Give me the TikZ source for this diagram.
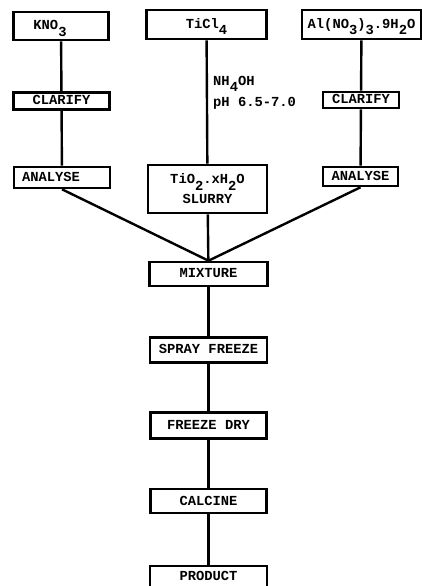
\documentclass[tikz,border=0pt]{standalone}
\usepackage{fontspec}
\newfontfamily\typer{Liberation Mono}
\newcommand\dn[1]{\raisebox{-0.45em}{#1}}

\begin{document}
\begin{tikzpicture}[x=1pt,y=-1pt,node distance=75.7pt,
  main node/.style={rectangle,draw,line width=2.6pt,
  font=\typer\bfseries\fontsize{13.8}{16}\selectfont,
  inner sep=0pt,text height=7.9pt,text depth=0pt}]

  \useasboundingbox (0,0) rectangle (422,586);

  %Three feed solutions along the top%
  \node[main node,minimum width=95pt,minimum height=28pt] (KNO) at (61,26) {KNO\dn{3}\hspace*{22pt}};
  \node[main node,minimum width=120pt,minimum height=29pt] (TiCl) at (206.5,24.5) {TiCl\dn{4}};
  \node[main node,minimum width=119pt,minimum height=29pt] (AlN) at (361.5,24.5) {Al(NO\dn{3})\dn{3}.9H\dn{2}O};

  \node[main node,minimum width=96pt,minimum height=17pt] (ClarK) at (61.5,101) {CLARIFY};
  \node[main node,minimum width=76pt,minimum height=16pt] (ClarAl) at (361,100) {CLARIFY};

  \node[main node,minimum width=96pt,minimum height=21pt] (AnK) at (62,177.5) {ANALYSE\hspace*{22pt}};
  \node[main node,minimum width=119pt,minimum height=48pt,text height={},text depth={},align=center] (TiO) at (207.5,189) {TiO\dn{2}.xH\dn{2}O\\[4pt] SLURRY};
  \node[main node,minimum width=75pt,minimum height=19pt] (AnAl) at (360.5,176.5) {ANALYSE};

  %Main process line%
  \node[main node,minimum width=118pt,minimum height=24pt] (Mix) at (208.5,274) {MIXTURE};
  \node[main node,minimum width=117pt,minimum height=25pt] (Spray) [below of=Mix] {SPRAY FREEZE};
  \node[main node,minimum width=116pt,minimum height=26pt] (Dry) [below of=Spray] {FREEZE DRY};
  \node[main node,minimum width=116pt,minimum height=24pt] (Calc) [below of=Dry] {CALCINE};
  \node[main node,minimum width=117pt,minimum height=22pt] (Prod) [below of=Calc] {PRODUCT};

  \node[font=\typer\bfseries\fontsize{13.8}{13}\selectfont,align=left,anchor=north west,inner sep=0pt] (Reag) at (213,76) {NH\dn{4}OH\\[5pt]pH 6.5-7.0};

  \path[every edge/.style={draw,line width=2.4pt}]
    %KNO3 branch%
    (KNO) edge (ClarK)
    (ClarK) edge (AnK)
    (AnK.south) edge (Mix.north)
    %TiCl4 hydrolysis%
    (TiCl) edge (TiO)
    (TiO) edge (Mix)
    %Aluminium nitrate branch%
    (AlN) edge (ClarAl)
    (ClarAl) edge (AnAl)
    (AnAl.south) edge (Mix.north)
    %Down to the product%
    (Mix) edge (Spray)
    (Spray) edge (Dry)
    (Dry) edge (Calc)
    (Calc) edge (Prod);

\end{tikzpicture}
\end{document}
